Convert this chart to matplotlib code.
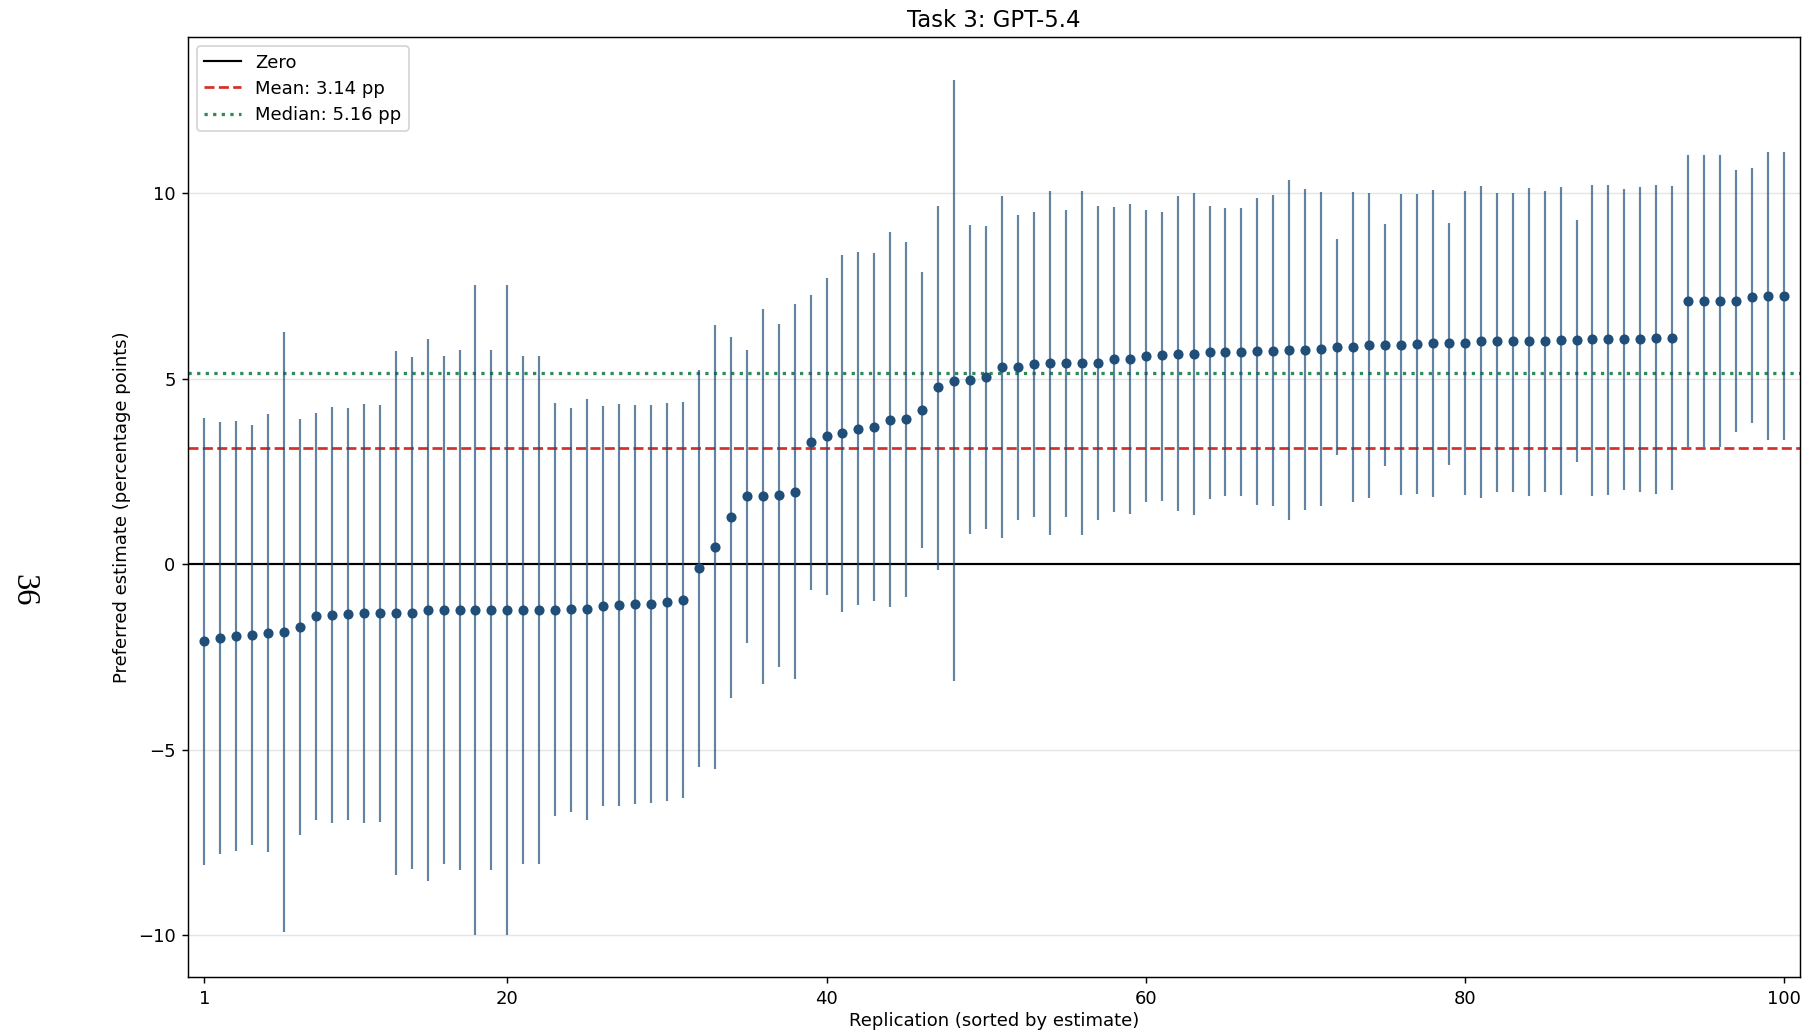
import matplotlib
matplotlib.use("Agg")
import matplotlib.pyplot as plt
import numpy as np

title = "Task 3: GPT-5.4"
xlabel = "Replication (sorted by estimate)"
ylabel = "Preferred estimate (percentage points)"
mean_value = 3.14
median_value = 5.16
page_number = "36"

estimates = [
    -2.06, -1.98, -1.93, -1.90, -1.85, -1.82, -1.70, -1.40, -1.37, -1.33,
    -1.32, -1.32, -1.32, -1.31, -1.23, -1.22, -1.22, -1.22, -1.22, -1.22,
    -1.22, -1.22, -1.22, -1.21, -1.20, -1.12, -1.09, -1.07, -1.07, -1.01,
    -0.96, -0.10, 0.46, 1.27, 1.83, 1.83, 1.86, 1.96, 3.30, 3.45,
    3.53, 3.66, 3.71, 3.89, 3.91, 4.17, 4.77, 4.95, 4.98, 5.04,
    5.31, 5.31, 5.41, 5.43, 5.43, 5.43, 5.43, 5.53, 5.54, 5.61,
    5.64, 5.68, 5.68, 5.71, 5.73, 5.73, 5.74, 5.76, 5.78, 5.79,
    5.81, 5.86, 5.86, 5.91, 5.91, 5.92, 5.94, 5.96, 5.96, 5.97,
    6.01, 6.01, 6.01, 6.01, 6.02, 6.04, 6.04, 6.06, 6.06, 6.07,
    6.07, 6.09, 6.11, 7.11, 7.11, 7.11, 7.11, 7.21, 7.23, 7.23,
]

ci_high = [
    3.94, 3.83, 3.86, 3.75, 4.04, 6.25, 3.91, 4.09, 4.24, 4.21,
    4.31, 4.29, 5.74, 5.59, 6.07, 5.61, 5.78, 7.54, 5.78, 7.54,
    5.61, 5.61, 4.36, 4.22, 4.46, 4.27, 4.31, 4.29, 4.29, 4.36,
    4.37, 5.23, 6.44, 6.14, 5.79, 6.88, 6.49, 7.01, 7.26, 7.71,
    8.33, 8.43, 8.40, 8.96, 8.70, 7.89, 9.67, 13.05, 9.14, 9.12,
    9.92, 9.41, 9.50, 10.07, 9.55, 10.05, 9.67, 9.64, 9.70, 9.54,
    9.50, 9.92, 10.02, 9.65, 9.59, 9.59, 9.87, 9.95, 10.35, 10.12,
    10.03, 8.76, 10.03, 10.00, 9.16, 9.97, 9.97, 10.08, 9.21, 10.05,
    10.20, 10.02, 10.02, 10.13, 10.05, 10.17, 9.27, 10.21, 10.23, 10.12,
    10.18, 10.23, 10.20, 11.04, 11.04, 11.04, 10.63, 10.69, 11.11, 11.11,
]

ci_low = [
    -8.09, -7.81, -7.72, -7.56, -7.76, -9.90, -7.29, -6.90, -6.98, -6.90,
    -6.96, -6.95, -8.38, -8.22, -8.53, -8.07, -8.23, -9.98, -8.23, -9.98,
    -8.07, -8.07, -6.78, -6.67, -6.88, -6.50, -6.50, -6.45, -6.44, -6.37,
    -6.29, -5.45, -5.51, -3.61, -2.13, -3.23, -2.77, -3.10, -0.69, -0.83,
    -1.29, -1.09, -0.99, -1.16, -0.89, 0.45, -0.15, -3.14, 0.83, 0.96,
    0.71, 1.20, 1.29, 0.78, 1.29, 0.79, 1.19, 1.42, 1.37, 1.68,
    1.72, 1.44, 1.32, 1.75, 1.83, 1.83, 1.60, 1.58, 1.20, 1.47,
    1.58, 2.95, 1.67, 1.80, 2.66, 1.88, 1.90, 1.82, 2.69, 1.86,
    1.78, 1.96, 1.96, 1.85, 1.95, 1.88, 2.76, 1.85, 1.86, 2.00,
    1.95, 1.90, 2.01, 3.17, 3.17, 3.17, 3.58, 3.81, 3.35, 3.35,
]

xticks = [1, 20, 40, 60, 80, 100]
yticks = [-10, -5, 0, 5, 10]

est = np.array(estimates)
lo = np.array(ci_low)
hi = np.array(ci_high)
x = np.arange(1, len(est) + 1)

DPI = 130
fig = plt.figure(figsize=(1817 / DPI, 1035 / DPI), dpi=DPI)
ax = fig.add_axes([0.1036, 0.0556, 0.887, 0.9083])

dot_color = "#1f4e79"
ax.errorbar(x, est, yerr=[est - lo, hi - est], fmt="none",
            ecolor=dot_color, alpha=0.7, elinewidth=1.2, capsize=0, zorder=2)
ax.plot(x, est, "o", color=dot_color, markersize=4.6, zorder=3)

ax.axhline(0, color="black", linewidth=1.2, label="Zero", zorder=1)
ax.axhline(mean_value, color="#d62f27", linestyle="--", linewidth=1.5,
           label=f"Mean: {mean_value:.2f} pp", zorder=1)
ax.axhline(median_value, color="#2e8b57", linestyle=":", linewidth=1.8,
           label=f"Median: {median_value:.2f} pp", zorder=1)

ax.set_xlim(0, 101)
ax.set_xticks(xticks)
ax.set_yticks(yticks)
ax.yaxis.grid(True, color="#cccccc", alpha=0.5, linewidth=0.8)
ax.set_axisbelow(True)

ax.set_title(title, fontsize=12.6)
ax.set_xlabel(xlabel, fontsize=10, labelpad=2)
ax.set_ylabel(ylabel, fontsize=10)
ax.legend(loc="upper left", fontsize=10, labelspacing=0.45)

fig.text(0.0132, 0.43, page_number, rotation=270, fontsize=18,
         family="Liberation Serif", ha="center", va="center")

fig.savefig("out.png", dpi=DPI)
